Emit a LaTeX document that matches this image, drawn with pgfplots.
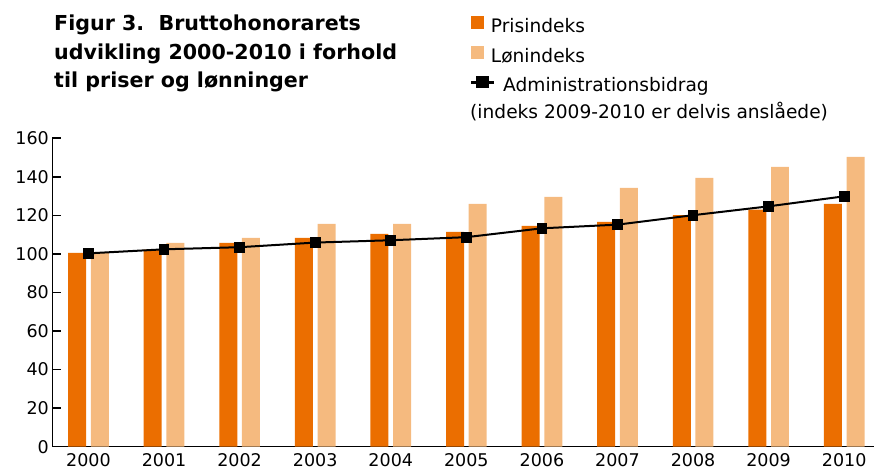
\documentclass[border=0pt]{standalone}
\usepackage{pgfplots}
\pgfplotsset{compat=1.18}
\usepackage{fontspec}
\setmainfont{DejaVu Sans}
\definecolor{darkor}{HTML}{EB6E00}
\definecolor{lightor}{HTML}{F5BA7F}
\begin{document}
\begin{tikzpicture}[x=1bp,y=1bp]
\useasboundingbox (0,0) rectangle (884,472);
\begin{axis}[
  at={(52.3bp,25.3bp)}, anchor=origin,
  scale only axis,
  width=821.7bp, height=308.4bp,
  xmin=1999.521, xmax=2010.394,
  ymin=0, ymax=160,
  axis x line=bottom, axis y line=left,
  axis line style={line width=1.6bp, -},
  xtick={2000,...,2010},
  xticklabel style={/pgf/number format/1000 sep={}},
  x tick label style={yshift=-3bp},
  major x tick style={draw=none},
  ytick={0,20,...,160},
  tick align=inside,
  major tick length=9bp,
  major y tick style={line width=1.6bp, black},
  tick label style={font=\fontsize{17.5bp}{21bp}\selectfont},
  /pgf/number format/assume math mode=true,
  legend style={draw=none, fill=none, at={(axis description cs:0.5085,1.0)}, anchor=north west,
     yshift=122bp, font=\fontsize{18.6bp}{22bp}\selectfont, inner sep=0pt, row sep=9.5bp,
     nodes={inner sep=0pt, text height=13bp, text depth=4bp}},
  legend cell align=left,
  clip=false,
]
\addplot[ybar, bar width=0.238, bar shift=-0.15, fill=darkor, draw=none,
  legend image code/.code={\fill[darkor] (0bp,-1bp) rectangle (13bp,12bp);}]
  coordinates {(2000,100.5) (2001,102.3) (2002,105.7) (2003,108.3) (2004,110.4) (2005,111.4) (2006,114.5) (2007,116.6) (2008,120.1) (2009,123.0) (2010,126.0)};
\addlegendentry{\hspace*{-4.3bp}Prisindeks}
\addplot[ybar, bar width=0.238, bar shift=0.15, fill=lightor, draw=none,
  legend image code/.code={\fill[lightor] (0bp,-1bp) rectangle (13bp,12bp);}]
  coordinates {(2000,100.5) (2001,105.7) (2002,108.3) (2003,115.6) (2004,115.6) (2005,126.0) (2006,129.6) (2007,134.3) (2008,139.4) (2009,145.2) (2010,150.3)};
\addlegendentry{\hspace*{-4.3bp}Lønindeks}
\addplot[black, line width=2bp, mark=square*, mark size=4.4bp, mark options={solid},
  legend image code/.code={\draw[black,line width=2.2bp] (0bp,5bp) -- (22.7bp,5bp); \fill[black] (6bp,0bp) rectangle (16.5bp,10bp);}]
  coordinates {(2000,100.3) (2001,102.4) (2002,103.5) (2003,105.9) (2004,107.1) (2005,108.7) (2006,113.3) (2007,115.2) (2008,120.1) (2009,124.7) (2010,129.9)};
\addlegendentry{\hspace*{8bp}Administrationsbidrag}
\addlegendimage{empty legend}
\addlegendentry{\hspace*{-25bp}(indeks 2009-2010 er delvis anslåede)}
\end{axis}
\node[anchor=north west, inner sep=0pt, align=left, font=\fontsize{20.6bp}{28.5bp}\selectfont\bfseries] at (54,457)
  {Figur 3.\ \ Bruttohonorarets\\udvikling 2000-2010 i forhold\\til priser og lønninger};
\end{tikzpicture}
\end{document}
